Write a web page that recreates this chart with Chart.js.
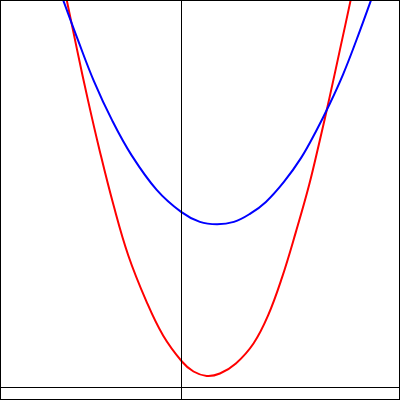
<!DOCTYPE html>
<html>
<head>
<meta charset="utf-8">
<script src="https://cdn.jsdelivr.net/npm/chart.js@4/dist/chart.umd.min.js"></script>
<style>
  html, body { margin: 0; padding: 0; background: #fff; }
  canvas { display: block; }
</style>
</head>
<body>
<canvas id="plot" width="400" height="400"></canvas>
<script>
// Values
const blueX = [-3.11, -2.96, -2.59, -2.19, -1.74, -1.25, -0.62, -0.01, 0.46, 0.89, 1.31, 1.71, 2.11, 2.56, 2.99, 3.36, 3.71, 4.04, 4.36, 4.74, 4.88];
const blueY = [10.1, 9.69, 8.69, 7.66, 6.69, 5.81, 4.94, 4.39, 4.14, 4.08, 4.14, 4.34, 4.64, 5.14, 5.74, 6.40, 7.10, 7.83, 8.65, 9.69, 10.1];

const redX = [-2.96, -2.87, -2.61, -2.34, -2.05, -1.70, -1.33, -0.88, -0.46, 0.01, 0.30, 0.63, 0.96, 1.36, 1.80, 2.16, 2.51, 2.86, 3.19, 3.46, 3.71, 3.96, 4.23, 4.31];
const redY = [10.1, 9.69, 8.44, 7.19, 5.94, 4.56, 3.30, 2.16, 1.30, 0.65, 0.40, 0.29, 0.35, 0.60, 1.10, 1.79, 2.74, 3.89, 5.06, 6.19, 7.29, 8.44, 9.69, 10.1];

const xRange = [-4.5375, 5.4625];
const yRange = [-0.3125, 9.6875];

const toPoints = (xs, ys) => xs.map((x, i) => ({ x: x, y: ys[i] }));

// frame around the plot area
const framePlugin = {
  id: 'frame',
  afterDraw(chart) {
    const { ctx, chartArea: a } = chart;
    ctx.save();
    ctx.strokeStyle = '#000';
    ctx.lineWidth = 1;
    ctx.strokeRect(a.left + 0.5, a.top + 0.5, a.right - a.left - 1, a.bottom - a.top - 1);
    ctx.restore();
  }
};

const curve = (label, xs, ys, color) => ({
  label: label,
  data: toPoints(xs, ys),
  borderColor: color,
  borderWidth: 2,
  showLine: true,
  tension: 0.4,
  pointRadius: 0
});

new Chart(document.getElementById('plot'), {
  type: 'scatter',
  data: {
    datasets: [
      {
        label: 'y-axis',
        data: [{ x: 0, y: yRange[0] }, { x: 0, y: yRange[1] }],
        borderColor: '#000',
        borderWidth: 1,
        showLine: true,
        pointRadius: 0
      },
      {
        label: 'x-axis',
        data: [{ x: xRange[0], y: 0 }, { x: xRange[1], y: 0 }],
        borderColor: '#000',
        borderWidth: 1,
        showLine: true,
        pointRadius: 0
      },
      curve('blue', blueX, blueY, '#0000ff'),
      curve('red', redX, redY, '#ff0000')
    ]
  },
  options: {
    responsive: false,
    animation: false,
    layout: { padding: 0 },
    plugins: { legend: { display: false }, tooltip: { enabled: false } },
    scales: {
      x: { type: 'linear', min: xRange[0], max: xRange[1], display: false },
      y: { type: 'linear', min: yRange[0], max: yRange[1], display: false }
    }
  },
  plugins: [framePlugin]
});
</script>
</body>
</html>
